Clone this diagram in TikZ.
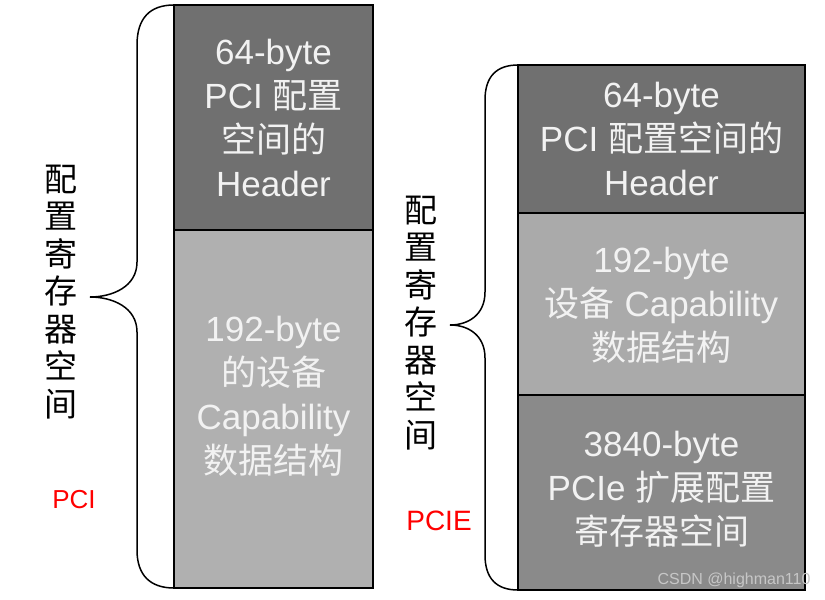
\documentclass[tikz,border=0pt]{standalone}
\usepackage{fontspec}
\setmainfont{Liberation Sans}
\newfontfamily\cjk{Noto Sans CJK SC}
\newcommand{\zh}[1]{{\cjk #1}}
\definecolor{hdrgray}{RGB}{112,112,112}
\definecolor{capgray}{RGB}{176,176,176}
\definecolor{midgray}{RGB}{170,170,170}
\definecolor{extgray}{RGB}{138,138,138}
\definecolor{txtwhite}{RGB}{242,242,242}
\begin{document}
\begin{tikzpicture}[x=1pt,y=-1pt,
  blk/.style={draw=black,line width=1.6pt,inner sep=0pt,outer sep=0pt,anchor=north west},
  blktxt/.style={text=txtwhite,align=center,inner sep=0pt,font=\fontsize{35}{44}\selectfont},
  vlabel/.style={align=center,inner sep=0pt,font=\cjk\fontsize{33}{37.5}\selectfont},
  redlabel/.style={text=red,inner sep=0pt},
  brace/.style={draw=black,line width=1.5pt}]
\useasboundingbox (0,0) rectangle (825,600);
% left column (PCI)
\node[blk,fill=hdrgray,minimum width=199pt,minimum height=225pt] (lh) at (174,5) {};
\node[blk,fill=capgray,minimum width=199pt,minimum height=358pt] (lc) at (174,230) {};
\node[blktxt] (lht) at (273.5,118) {64-byte\\PCI \zh{配置}\\\zh{空间的}\\Header};
\node[blktxt] (lct) at (273.5,396) {192-byte\\\zh{的设备}\\Capability\\\zh{数据结构}};
% right column (PCIE)
\node[blk,fill=hdrgray,minimum width=287pt,minimum height=148pt] (rh) at (518,65) {};
\node[blk,fill=midgray,minimum width=287pt,minimum height=182pt] (rm) at (518,213) {};
\node[blk,fill=extgray,minimum width=287pt,minimum height=195pt] (rb) at (518,395) {};
\node[blktxt] (rht) at (661.5,139) {64-byte\\PCI \zh{配置空间的}\\Header};
\node[blktxt] (rmt) at (661.5,305) {192-byte\\\zh{设备} Capability\\\zh{数据结构}};
\node[blktxt] (rbt) at (661.5,489) {3840-byte\\PCIe \zh{扩展配置}\\\zh{寄存器空间}};
% braces
\path[brace] (lh.north west) .. controls (150,5) and (137,18) .. (137,45)
  -- (137,262) .. controls (137,287) and (112,297) .. (90,297)
  .. controls (112,297) and (137,307) .. (137,332)
  -- (137,550) .. controls (137,575) and (150,588) .. (lc.south west);
\path[brace] (rh.north west) .. controls (497,65) and (485,76) .. (485,100)
  -- (485,292) .. controls (485,315) and (468,325) .. (450,325)
  .. controls (468,325) and (485,335) .. (485,358)
  -- (485,555) .. controls (485,579) and (497,590) .. (rb.south west);
% vertical labels
\node[vlabel] (lv) at (61,292) {配\\置\\寄\\存\\器\\空\\间};
\node[vlabel] (rv) at (421,323) {配\\置\\寄\\存\\器\\空\\间};
% red labels
\node[redlabel,font=\fontsize{26}{30}\selectfont] (pci) at (74,500) {PCI};
\node[redlabel,font=\fontsize{28}{32}\selectfont] (pcie) at (439,521) {PCIE};
% watermark
\node[text=white!78!black,inner sep=0pt,font=\fontsize{16}{18}\selectfont] (wm) at (734,580) {CSDN @highman110};
\end{tikzpicture}
\end{document}
